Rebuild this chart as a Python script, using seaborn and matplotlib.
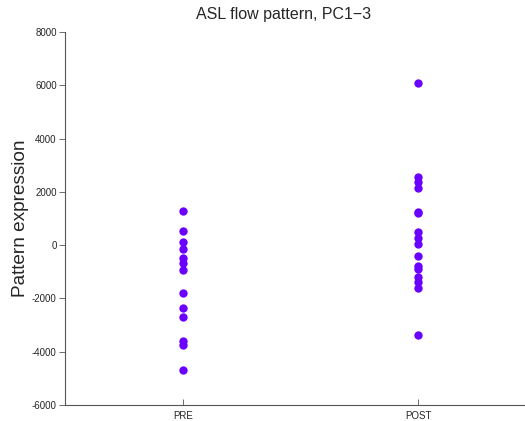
import matplotlib
matplotlib.use("Agg")
import matplotlib.pyplot as plt
import seaborn as sns
import pandas as pd

groups = ["PRE", "POST"]
pre_values = [1276, 537, 101, -139, -499, -664, -949, -1790, -2375, -2690, -3591, -3764, -4702]
post_values = [6068, 2563, 2353, 2139, 1250, 1210, 499, 251, 38, -424, -777, -912, -1212, -1400, -1602, -3366]
yticks = [-6000, -4000, -2000, 0, 2000, 4000, 6000, 8000]

df = pd.DataFrame({
    "group": ["PRE"] * len(pre_values) + ["POST"] * len(post_values),
    "value": pre_values + post_values,
})

sns.set_style("white")
plt.rcParams["font.family"] = ["Liberation Sans", "DejaVu Sans"]

fig = plt.figure(figsize=(5.25, 4.21), dpi=100)
ax = fig.add_axes([65 / 525, 16 / 421, 471 / 525, 373 / 421])

sns.stripplot(data=df, x="group", y="value", order=groups, jitter=False,
              color="#6a00ff", size=6.0, linewidth=0, ax=ax)

ax.set_xlim(-0.5, 1.5)
ax.set_ylim(-6000, 8000)
ax.set_yticks(yticks)
ax.set_yticklabels([str(t) for t in yticks])
ax.set_xlabel("")
ax.set_ylabel("Pattern expression", fontsize=13.7, labelpad=2)
ax.set_title("ASL flow pattern, PC1\u22123", fontsize=11.5, pad=9,
             x=(283.5 - 65) / 471)

for s in ["top", "right"]:
    ax.spines[s].set_visible(False)
for s in ["left", "bottom"]:
    ax.spines[s].set_color("#555555")
    ax.spines[s].set_linewidth(0.8)

ax.tick_params(axis="y", direction="out", length=4, width=0.6, color="#555555", labelsize=7, pad=2)
ax.tick_params(axis="x", direction="in", length=4, width=0.6, color="#555555", labelsize=7, pad=4)
ax.tick_params(left=True, bottom=True)

fig.savefig("out.png", dpi=100)
